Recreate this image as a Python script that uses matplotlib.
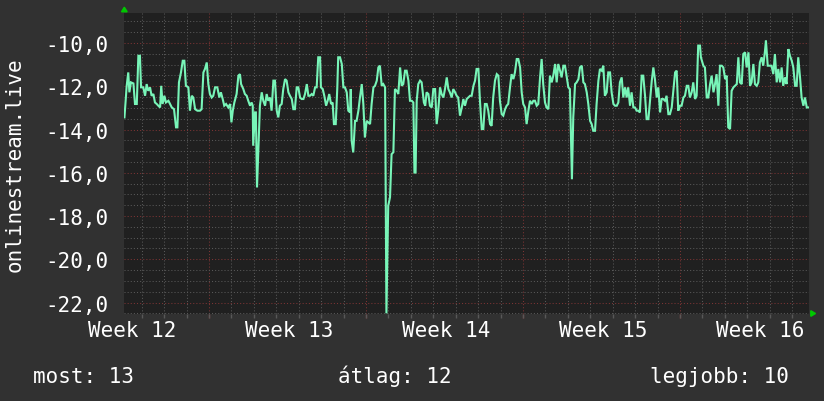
import matplotlib
matplotlib.use("Agg")
import matplotlib.pyplot as plt
import numpy as np
from matplotlib.patches import Polygon
from matplotlib.transforms import IdentityTransform

# ---- data (time in days from left edge of plot, value) ----
days1 = [0.02,0.12,0.19,0.24,0.31,0.42,0.49,0.57,0.64,0.71,0.76,0.86,0.94,1.01,1.08,1.16,1.23,1.31,1.38,1.46,1.53,1.61,1.66,1.72,1.80,1.87,1.98,2.05,2.13,2.23,2.32,2.38,2.45,2.54,2.62,2.69,2.76,2.87,2.94,3.02,3.09,3.17,3.27,3.39,3.46,3.54,3.61,3.69,3.76,3.83,3.91,3.98,4.06,4.16,4.25,4.32,4.40,4.47,4.55,4.65,4.73,4.79,4.85,4.92]
vals1 = [-13.44,-11.98,-11.36,-12.28,-11.82,-11.87,-12.82,-12.82,-10.59,-10.59,-12.05,-12.05,-12.44,-11.90,-12.21,-12.05,-12.44,-12.36,-12.75,-12.82,-12.90,-12.98,-11.98,-12.82,-12.44,-12.75,-12.67,-12.82,-12.98,-13.06,-13.90,-13.90,-11.82,-11.36,-10.82,-10.82,-11.98,-12.05,-13.13,-12.44,-12.52,-13.06,-13.13,-13.13,-13.06,-11.36,-11.20,-10.90,-11.90,-12.36,-12.52,-12.44,-12.05,-12.05,-12.52,-12.28,-12.59,-12.90,-12.82,-12.98,-12.82,-13.67,-13.13,-12.75]

days2 = [5.02,5.10,5.17,5.22,5.32,5.39,5.47,5.54,5.62,5.69,5.74,5.76,5.84,5.88,5.93,6.06,6.14,6.21,6.29,6.36,6.43,6.51,6.58,6.66,6.73,6.81,6.88,6.95,7.03,7.10,7.18,7.25,7.33,7.40,7.48,7.55,7.62,7.70,7.77,7.85,7.92,8.00,8.07,8.15,8.22,8.29,8.37,8.44,8.52,8.59,8.66,8.74,8.78,8.86,8.93,9.01,9.08,9.15,9.23,9.30,9.36,9.44,9.51,9.55,9.63,9.71,9.78,9.85,9.93,10.00,10.08]
vals2 = [-12.36,-11.51,-11.44,-11.90,-12.13,-12.36,-12.44,-12.67,-12.90,-12.75,-12.90,-14.75,-13.21,-13.21,-16.68,-12.90,-12.28,-12.67,-12.90,-12.36,-12.67,-12.52,-13.13,-11.74,-11.74,-13.13,-13.44,-12.90,-12.82,-12.13,-11.67,-11.74,-12.28,-12.44,-12.59,-13.06,-13.06,-12.05,-12.05,-12.52,-12.59,-12.59,-12.36,-11.90,-12.44,-12.44,-12.36,-12.44,-12.05,-12.05,-10.66,-10.66,-12.05,-12.13,-12.44,-12.90,-12.67,-12.36,-12.82,-12.75,-13.75,-13.75,-12.05,-10.66,-10.66,-10.97,-12.05,-12.05,-12.28,-13.13,-13.21]

days3 = [10.11,10.15,10.22,10.30,10.37,10.45,10.52,10.60,10.67,10.74,10.82,10.89,10.97,11.04,11.12,11.19,11.27,11.34,11.41,11.49,11.56,11.64,11.70,11.78,11.86,11.93,12.01,12.08,12.16,12.23,12.31,12.38,12.45,12.53,12.60,12.68,12.75,12.83,12.90,12.95,13.00,13.05,13.12,13.20,13.27,13.32,13.37,13.43,13.49,13.57,13.64,13.72,13.79,13.87,13.94,14.01,14.09,14.16,14.24,14.31,14.39,14.46,14.53,14.61,14.68,14.76,14.83,14.90,14.98,15.06,15.13,15.20]
vals3 = [-12.13,-14.52,-15.06,-13.60,-13.60,-13.13,-12.52,-11.90,-12.82,-14.37,-13.60,-13.67,-13.75,-12.82,-12.05,-11.98,-11.74,-11.13,-11.05,-11.98,-11.90,-12.05,-22.50,-17.53,-17.13,-15.14,-15.05,-12.13,-12.21,-12.36,-11.13,-11.98,-11.90,-11.28,-11.28,-11.74,-12.67,-12.67,-12.75,-15.99,-15.99,-12.67,-11.90,-11.74,-11.82,-12.28,-12.75,-12.90,-12.28,-12.36,-12.90,-12.98,-12.13,-12.13,-13.75,-13.13,-12.05,-12.36,-12.52,-12.13,-11.59,-12.13,-12.28,-12.52,-12.13,-12.28,-12.44,-12.52,-13.36,-12.98,-12.59,-12.90]

days4 = [15.28,15.35,15.43,15.50,15.58,15.65,15.72,15.80,15.87,15.95,16.02,16.09,16.17,16.24,16.32,16.39,16.46,16.54,16.62,16.69,16.76,16.84,16.91,16.99,17.06,17.13,17.21,17.28,17.36,17.43,17.51,17.58,17.66,17.73,17.80,17.88,17.95,18.03,18.10,18.18,18.25,18.32,18.40,18.47,18.55,18.62,18.69,18.77,18.84,18.92,18.99,19.07,19.14,19.22,19.29,19.36,19.44,19.51,19.59,19.66,19.74,19.81,19.88,19.97,20.03,20.11,20.18,20.26,20.33,20.41]
vals4 = [-12.59,-12.52,-12.44,-12.44,-11.98,-11.74,-11.20,-11.20,-12.67,-13.98,-13.98,-12.82,-12.82,-13.13,-13.75,-13.83,-12.52,-11.74,-11.44,-11.51,-12.67,-13.29,-13.36,-13.06,-12.90,-12.82,-12.05,-11.44,-11.67,-11.36,-10.74,-10.74,-11.13,-12.28,-12.82,-12.98,-13.75,-13.13,-12.67,-12.82,-12.67,-12.67,-12.90,-12.82,-11.59,-10.74,-11.90,-12.75,-12.98,-13.06,-11.51,-11.82,-11.51,-10.97,-11.82,-10.97,-11.28,-11.59,-11.05,-11.05,-11.59,-12.05,-12.13,-16.30,-13.44,-11.90,-11.82,-11.67,-11.13,-11.05]

days5 = [20.48,20.55,20.63,20.70,20.78,20.85,20.92,21.00,21.07,21.15,21.22,21.30,21.37,21.44,21.52,21.59,21.67,21.74,21.82,21.89,21.97,22.04,22.11,22.19,22.26,22.34,22.41,22.48,22.56,22.63,22.71,22.78,22.86,22.93,23.00,23.08,23.15,23.23,23.30,23.38,23.45,23.53,23.60,23.67,23.75,23.82,23.90,23.97,24.04,24.12,24.19,24.27,24.34,24.42,24.49,24.57,24.64,24.71,24.79,24.86,24.94,25.01,25.09,25.16,25.23,25.31,25.38]
vals5 = [-11.82,-11.90,-12.28,-12.82,-13.60,-13.75,-14.06,-14.06,-12.82,-11.74,-11.20,-11.28,-11.05,-12.44,-12.28,-11.36,-11.36,-12.28,-12.82,-12.90,-12.90,-12.75,-11.82,-11.59,-12.52,-12.05,-12.52,-12.05,-12.90,-12.28,-12.98,-12.98,-13.13,-13.13,-13.21,-11.51,-11.51,-12.44,-13.52,-13.52,-12.67,-11.74,-11.13,-11.67,-12.52,-12.05,-13.21,-12.59,-12.59,-12.67,-12.44,-13.29,-13.29,-12.98,-12.21,-11.36,-11.28,-13.13,-12.90,-12.90,-12.52,-12.44,-11.98,-11.98,-12.52,-12.28,-11.82]

days6 = [25.46,25.53,25.60,25.68,25.72,25.83,25.90,25.98,26.05,26.13,26.20,26.28,26.35,26.42,26.50,26.57,26.65,26.72,26.80,26.87,26.94,27.02,27.09,27.17,27.24,27.32,27.39,27.46,27.54,27.61,27.69,27.76,27.84,27.91,27.98,28.06,28.13,28.21,28.28,28.35,28.43,28.50,28.58,28.62,28.70,28.80,28.87,28.95,29.02,29.10,29.17,29.25,29.32,29.39,29.47,29.54,29.62,29.69,29.77,29.84,29.92,29.99,30.06,30.14,30.21,30.29,30.36,30.44,30.51]
vals6 = [-12.59,-12.44,-10.12,-10.12,-10.66,-11.05,-11.13,-12.52,-12.52,-11.90,-11.51,-12.28,-11.90,-11.44,-12.90,-11.05,-11.05,-11.13,-11.67,-11.51,-13.90,-13.98,-12.21,-12.05,-11.98,-11.90,-10.66,-11.82,-11.90,-10.51,-10.43,-11.13,-10.43,-11.98,-11.82,-10.97,-11.90,-11.98,-11.82,-10.90,-10.66,-11.05,-10.35,-9.89,-11.05,-11.05,-11.05,-11.44,-10.51,-11.82,-11.20,-11.82,-11.13,-11.98,-11.59,-11.90,-10.28,-10.59,-10.82,-11.13,-11.98,-11.98,-10.66,-11.59,-12.52,-12.90,-12.52,-12.98,-12.98]

week_labels = ["Week 12", "Week 13", "Week 14", "Week 15", "Week 16"]
week_label_days = [0.36, 7.36, 14.36, 21.36, 28.36]
y_ticks = [-22, -20, -18, -16, -14, -12, -10]
y_tick_labels = ["-22,0", "-20,0", "-18,0", "-16,0", "-14,0", "-12,0", "-10,0"]
series_name = "onlinestream.live"
legend_items = [("most", "13"), ("átlag", "12"), ("legjobb", "10")]

# ---- style ----
BG = "#313131"
PLOT_BG = "#202020"
GRID = "#585858"
MAJOR = "#7c3434"
LINE = "#78f5b8"
TXT = "#ffffff"
FONT = "DejaVu Sans Mono"
FS = 15

W, H = 824, 402
fig = plt.figure(figsize=(W / 100, H / 100), dpi=100, facecolor=BG)
L, R, T, B = 124, 809, 13.5, 315
ax = fig.add_axes([L / W, 1 - B / H, (R - L) / W, (B - T) / H], facecolor=PLOT_BG)

x = np.concatenate([days1, days2, days3, days4, days5, days6])
y = np.concatenate([vals1, vals2, vals3, vals4, vals5, vals6])

XMAX = 30.54
ax.set_xlim(0, XMAX)
ax.set_ylim(-22.53, -8.59)

dot = (0, (1, 2))
minor_days = np.arange(0.79, XMAX, 1.0)
major_days = np.arange(3.79, XMAX, 7.0)
for d in minor_days:
    if np.min(np.abs(major_days - d)) > 0.1:
        ax.axvline(d, color=GRID, lw=0.75, ls=dot, zorder=1)
for d in major_days:
    ax.axvline(d, color=MAJOR, lw=0.75, ls=dot, zorder=1)
for v in np.arange(-22.5, -8.5, 0.5):
    if abs(v % 2) < 1e-6:
        ax.axhline(v, color=MAJOR, lw=0.75, ls=dot, zorder=1)
    else:
        ax.axhline(v, color=GRID, lw=0.75, ls=dot, zorder=1)

ax.plot(x, y, color=LINE, lw=1.5, zorder=3, solid_joinstyle="miter")

for s in ax.spines.values():
    s.set_visible(False)

ax.set_xticks(week_label_days)
ax.set_xticklabels(week_labels, fontfamily=FONT, fontsize=FS, color=TXT)
ax.tick_params(axis="x", length=0, pad=4)
ax.set_xticks(minor_days, minor=True)
ax.tick_params(axis="x", which="minor", length=3, color=GRID, width=1)

ax.set_yticks(y_ticks)
ax.set_yticklabels(y_tick_labels, fontfamily=FONT, fontsize=FS, color=TXT)
ax.tick_params(axis="y", length=0, pad=11.5)

sec = ax.secondary_xaxis("bottom")
sec.set_xticks(major_days)
sec.tick_params(length=3, color=MAJOR, width=1, labelbottom=False)
for s in sec.spines.values():
    s.set_visible(False)

fig.text(15 / W, 1 - 165 / H, series_name, rotation=90, ha="center", va="center",
         fontfamily=FONT, fontsize=FS, color=TXT)

legend_x = [33, 338, 650]
for (name, val), lx in zip(legend_items, legend_x):
    fig.text(lx / W, 1 - 383 / H, f"{name}: {val}", ha="left", va="baseline",
             fontfamily=FONT, fontsize=FS, color=TXT)

# axis arrows (rrdtool style)
fig.add_artist(Polygon([[121.5, H - 12.8], [127.2, H - 12.8], [124.3, H - 8.2]],
                       closed=True, transform=IdentityTransform(), color="#00c800", zorder=5))
fig.add_artist(Polygon([[810.8, H - 311.7], [810.8, H - 317.3], [815.5, H - 314.5]],
                       closed=True, transform=IdentityTransform(), color="#00c800", zorder=5))

fig.savefig("out.png", dpi=100, facecolor=BG)
